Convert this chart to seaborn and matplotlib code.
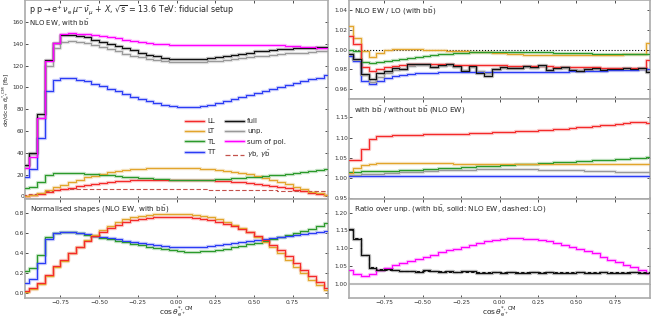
import numpy as np
import pandas as pd
import matplotlib
matplotlib.use("Agg")
import matplotlib.pyplot as plt
from matplotlib.lines import Line2D
import seaborn as sns

# ---------------- data (40 bins of width 0.05 in cos theta) ----------------
edges = np.round(np.arange(-1.0, 1.0001, 0.05), 3)

full = [29, 40, 76, 125, 141, 148, 148, 147, 146, 144, 142, 140, 138, 136, 134, 132, 130, 128.5, 127, 126.5,
        126, 126, 126, 126.5, 127, 128, 129, 130, 131, 132, 133, 133.5, 134, 135, 135.5, 136, 136, 136.5, 137, 137]
sumpol = [26, 36, 72, 124, 141, 149, 150, 149.5, 149, 148, 147, 146, 145, 144, 143, 142, 141, 140, 139.5, 139,
          138.5, 138.5, 138.5, 138.5, 138.5, 138.5, 138.5, 139, 139, 139, 139, 139, 139, 138.5, 138, 138, 137.5, 137, 136.5, 136]
unp = [28, 39, 72, 120, 136, 142, 143, 142, 140.5, 139, 137, 135, 133, 131, 129, 127.5, 126, 125, 124, 123.5,
       123, 123, 123, 123.5, 124, 124.5, 125, 126, 127, 128, 128.5, 129, 130, 131, 131.5, 132, 132, 132.5, 133, 133]
TT = [17.9, 25, 54, 97, 107, 109, 109, 107, 105.6, 103, 101, 98.5, 96.7, 94, 91.3, 89.5, 87.7, 86, 84, 83.2,
      82.3, 82.3, 82.3, 83.2, 84, 86, 87.7, 89.5, 91.3, 93, 95, 96.7, 98.5, 100, 102, 104, 105.6, 107.4, 109, 111]
TL = [7.9, 8.9, 13.6, 20.0, 21.4, 21.8, 21.8, 21.4, 20.9, 20.3, 19.8, 19.3, 18.7, 18.2, 17.7, 17.1, 16.6, 16.1, 15.7, 15.4,
      15.0, 14.8, 14.8, 15.0, 15.2, 15.5, 15.9, 16.4, 17.0, 17.5, 18.0, 18.6, 19.3, 20.0, 20.7, 21.4, 22.1, 23.0, 23.9, 25.0]
LT = [0.2, 1.1, 3.0, 5.6, 8.6, 10.5, 13.2, 15.1, 17.4, 19.1, 20.7, 22.0, 23.4, 24.3, 25.0, 25.5, 25.8, 26.0, 26.2, 26.2,
      26.2, 26.0, 25.8, 25.5, 25.0, 24.3, 23.5, 22.5, 21.4, 20.1, 18.6, 16.9, 15.1, 13.2, 10.9, 8.6, 6.6, 4.3, 2.6, 1.0]
LL = [0.4, 1.0, 2.0, 3.6, 5.4, 6.6, 8.0, 9.2, 10.5, 11.5, 12.3, 13.1, 13.7, 14.3, 14.7, 15.0, 15.2, 15.3, 15.4, 15.4,
      15.4, 15.3, 15.2, 15.0, 14.7, 14.4, 14.0, 13.5, 12.9, 12.3, 11.5, 10.7, 9.6, 8.6, 7.4, 6.0, 4.6, 3.4, 2.2, 1.0]
gb = [1, 2, 3.5, 5, 6, 6.5, 6.8, 7, 7, 7, 7, 7, 7, 7, 7, 7, 6.9, 6.8, 6.8, 6.7,
      6.6, 6.5, 6.4, 6.3, 6.2, 6.1, 6, 5.9, 5.8, 5.7, 5.6, 5.5, 5.4, 5.3, 5.2, 5.2, 5.1, 5, 5, 5]

# normalised shapes
LL_n = [0.02, 0.05, 0.10, 0.18, 0.27, 0.33, 0.40, 0.46, 0.52, 0.57, 0.61, 0.65, 0.68, 0.71, 0.73, 0.745, 0.755, 0.76, 0.765, 0.765,
        0.765, 0.76, 0.755, 0.745, 0.73, 0.715, 0.695, 0.67, 0.64, 0.61, 0.57, 0.53, 0.48, 0.43, 0.37, 0.30, 0.23, 0.17, 0.11, 0.05]
LT_n = [0.005, 0.034, 0.09, 0.17, 0.26, 0.32, 0.40, 0.46, 0.53, 0.58, 0.63, 0.67, 0.71, 0.74, 0.76, 0.775, 0.785, 0.79, 0.795, 0.795,
        0.795, 0.79, 0.785, 0.775, 0.76, 0.74, 0.715, 0.685, 0.65, 0.61, 0.565, 0.515, 0.46, 0.40, 0.33, 0.26, 0.20, 0.13, 0.08, 0.03]
TL_n = [0.22, 0.25, 0.38, 0.56, 0.60, 0.61, 0.61, 0.60, 0.585, 0.57, 0.555, 0.54, 0.525, 0.51, 0.495, 0.48, 0.465, 0.45, 0.44, 0.43,
        0.42, 0.415, 0.415, 0.42, 0.425, 0.435, 0.445, 0.46, 0.475, 0.49, 0.505, 0.52, 0.54, 0.56, 0.58, 0.60, 0.62, 0.645, 0.67, 0.70]
TT_n = [0.10, 0.14, 0.30, 0.54, 0.60, 0.61, 0.61, 0.60, 0.59, 0.575, 0.565, 0.55, 0.54, 0.525, 0.51, 0.50, 0.49, 0.48, 0.47, 0.465,
        0.46, 0.46, 0.46, 0.465, 0.47, 0.48, 0.49, 0.50, 0.51, 0.52, 0.53, 0.54, 0.55, 0.56, 0.57, 0.58, 0.59, 0.60, 0.61, 0.62]

# NLO EW / LO
LT_r1 = [1.024, 1.012, 0.999, 0.993, 0.997, 1.000, 1.001, 1.001, 1.001, 1.001, 1.000, 1.000, 1.000, 0.999, 0.999, 0.999,
         0.998, 0.998, 0.998, 0.997, 0.997, 0.996, 0.996, 0.995, 0.995, 0.995, 0.995, 0.995, 0.995, 0.995, 0.995, 0.995,
         0.995, 0.995, 0.995, 0.995, 0.996, 0.996, 0.996, 1.007]
LL_r1 = [1.014, 1.006, 0.982, 0.978, 0.980, 0.982, 0.983, 0.984, 0.985, 0.985, 0.985, 0.985, 0.985, 0.985, 0.984, 0.984,
         0.984, 0.984, 0.984, 0.984, 0.984, 0.983, 0.983, 0.983, 0.983, 0.983, 0.983, 0.982, 0.982, 0.982, 0.982, 0.982,
         0.982, 0.981, 0.981, 0.981, 0.981, 0.981, 0.981, 0.990]
TL_r1 = [1.000, 0.999, 0.988, 0.987, 0.988, 0.989, 0.990, 0.991, 0.992, 0.993, 0.994, 0.995, 0.996, 0.996, 0.997, 0.997,
         0.998, 0.998, 0.998, 0.998, 0.998, 0.998, 0.998, 0.998, 0.998, 0.998, 0.998, 0.997, 0.997, 0.997, 0.997, 0.997,
         0.996, 0.996, 0.996, 0.996, 0.996, 0.996, 0.996, 0.996]
TT_r1 = [0.994, 0.989, 0.968, 0.965, 0.968, 0.971, 0.973, 0.974, 0.975, 0.976, 0.976, 0.976, 0.977, 0.977, 0.977, 0.977,
         0.977, 0.977, 0.977, 0.977, 0.977, 0.977, 0.977, 0.977, 0.977, 0.977, 0.977, 0.977, 0.977, 0.978, 0.978, 0.978,
         0.978, 0.978, 0.979, 0.979, 0.979, 0.979, 0.980, 0.980]
full_r1 = [0.996, 0.991, 0.975, 0.970, 0.976, 0.978, 0.981, 0.980, 0.986, 0.985, 0.985, 0.982, 0.984, 0.985, 0.983, 0.978,
           0.983, 0.976, 0.973, 0.980, 0.982, 0.981, 0.981, 0.983, 0.982, 0.984, 0.979, 0.981, 0.982, 0.979, 0.978, 0.980,
           0.981, 0.979, 0.980, 0.980, 0.981, 0.980, 0.981, 0.977]
unp_r1 = [0.996, 0.990, 0.974, 0.967, 0.972, 0.976, 0.979, 0.980, 0.983, 0.984, 0.984, 0.982, 0.983, 0.984, 0.982, 0.979,
          0.982, 0.978, 0.976, 0.980, 0.981, 0.981, 0.981, 0.982, 0.981, 0.983, 0.979, 0.981, 0.981, 0.979, 0.979, 0.980,
          0.980, 0.979, 0.980, 0.980, 0.980, 0.980, 0.980, 0.978]

# with bb / without bb
LL_r2 = [1.045, 1.045, 1.072, 1.097, 1.103, 1.105, 1.106, 1.106, 1.107, 1.107, 1.108, 1.108, 1.109, 1.109, 1.110, 1.110,
         1.111, 1.111, 1.112, 1.113, 1.113, 1.114, 1.115, 1.116, 1.117, 1.118, 1.119, 1.120, 1.122, 1.123, 1.125, 1.126,
         1.128, 1.130, 1.132, 1.134, 1.136, 1.138, 1.139, 1.137]
LT_r2 = [1.012, 1.025, 1.032, 1.035, 1.036, 1.037, 1.037, 1.037, 1.037, 1.037, 1.036, 1.036, 1.036, 1.036, 1.035, 1.035,
         1.035, 1.035, 1.034, 1.034, 1.034, 1.034, 1.034, 1.034, 1.034, 1.033, 1.033, 1.033, 1.033, 1.033, 1.033, 1.033,
         1.033, 1.033, 1.033, 1.033, 1.033, 1.033, 1.033, 1.033]
TL_r2 = [1.015, 1.015, 1.016, 1.016, 1.016, 1.017, 1.017, 1.018, 1.019, 1.020, 1.021, 1.022, 1.023, 1.024, 1.025, 1.026,
         1.027, 1.028, 1.029, 1.030, 1.031, 1.032, 1.033, 1.034, 1.035, 1.036, 1.037, 1.038, 1.039, 1.040, 1.041, 1.042,
         1.043, 1.044, 1.045, 1.046, 1.047, 1.048, 1.050, 1.052]
unp_r2 = [1.007, 1.007, 1.008, 1.009, 1.010, 1.011, 1.012, 1.013, 1.014, 1.015, 1.016, 1.017, 1.018, 1.019, 1.019, 1.020,
          1.020, 1.021, 1.021, 1.021, 1.021, 1.021, 1.021, 1.021, 1.021, 1.020, 1.020, 1.019, 1.019, 1.018, 1.018, 1.017,
          1.017, 1.016, 1.016, 1.015, 1.015, 1.014, 1.014, 1.013]
TT_r2 = [1.005, 1.004, 1.004, 1.003, 1.003, 1.003, 1.003, 1.003, 1.003, 1.003, 1.003, 1.003, 1.003, 1.003, 1.003, 1.003,
         1.003, 1.003, 1.003, 1.003, 1.003, 1.003, 1.003, 1.003, 1.003, 1.003, 1.003, 1.003, 1.003, 1.003, 1.003, 1.003,
         1.003, 1.004, 1.004, 1.004, 1.004, 1.004, 1.004, 1.004]

# ratio over unpolarised
full_r3_nlo = [1.155, 1.125, 1.080, 1.045, 1.040, 1.041, 1.038, 1.035, 1.036, 1.033, 1.038, 1.036, 1.034, 1.035, 1.034, 1.035,
               1.035, 1.029, 1.031, 1.033, 1.031, 1.032, 1.030, 1.031, 1.032, 1.031, 1.032, 1.030, 1.031, 1.030, 1.032, 1.030,
               1.031, 1.032, 1.031, 1.030, 1.031, 1.032, 1.030, 1.030]
full_r3_lo = [1.150, 1.128, 1.080, 1.046, 1.041, 1.040, 1.038, 1.037, 1.036, 1.036, 1.035, 1.035, 1.035, 1.034, 1.034, 1.034,
              1.034, 1.034, 1.033, 1.033, 1.033, 1.033, 1.033, 1.033, 1.033, 1.033, 1.033, 1.033, 1.033, 1.033, 1.033, 1.033,
              1.033, 1.033, 1.033, 1.033, 1.033, 1.034, 1.034, 1.034]
sum_r3 = [1.040, 1.027, 1.022, 1.028, 1.040, 1.045, 1.052, 1.058, 1.064, 1.070, 1.076, 1.082, 1.088, 1.094, 1.099, 1.104,
          1.110, 1.115, 1.119, 1.123, 1.126, 1.128, 1.128, 1.127, 1.125, 1.122, 1.119, 1.115, 1.110, 1.104, 1.099, 1.093,
          1.087, 1.076, 1.068, 1.060, 1.052, 1.046, 1.040, 1.030]

xticks = [-0.75, -0.50, -0.25, 0.00, 0.25, 0.50, 0.75]

# ---------------- style ----------------
sns.set_style("ticks")
plt.rcParams['font.family'] = ['DejaVu Sans']
plt.rcParams['mathtext.fontset'] = 'dejavusans'

C = dict(LL="#f42a2a", LT="#e2a52c", TL="#2b9a2b", TT="#2b3cf5", full="#111111",
         unp="#999999", sum="#ff00ff", gb="#c4524c")

W, H = 651, 318
def pos(x0, y0, x1, y1):
    return [x0 / W, 1 - y1 / H, (x1 - x0) / W, (y1 - y0) / H]

r0, r1, r2, r3 = 0.3, 99.4, 198.5, 297.6
fig = plt.figure(figsize=(6.51, 3.18), dpi=100)
ax_main = fig.add_axes(pos(25, r0, 328, r2))
ax_norm = fig.add_axes(pos(25, r2, 328, r3))
ax_r1 = fig.add_axes(pos(349, r0, 650, r1))
ax_r2 = fig.add_axes(pos(349, r1, 650, r2))
ax_r3 = fig.add_axes(pos(349, r2, 650, r3))

def step(ax, vals, color, ls='-', band=True, lw=0.8, z=3):
    v = np.asarray(vals, dtype=float)
    df = pd.DataFrame({'x': edges, 'y': np.append(v, v[-1])})
    if band:
        sns.lineplot(data=df, x='x', y='y', ax=ax, color=color, lw=2.4, alpha=0.28,
                     drawstyle='steps-post', errorbar=None, legend=False, zorder=z - 1)
    sns.lineplot(data=df, x='x', y='y', ax=ax, color=color, lw=lw, linestyle=ls,
                 drawstyle='steps-post', errorbar=None, legend=False, zorder=z)

# main panel
step(ax_main, gb, C['gb'], ls=(0, (4, 2)), band=False)
for arr, key in [(LL, 'LL'), (LT, 'LT'), (TL, 'TL'), (TT, 'TT'), (unp, 'unp'), (full, 'full'), (sumpol, 'sum')]:
    step(ax_main, arr, C[key])

# normalised shapes
for arr, key in [(TL_n, 'TL'), (TT_n, 'TT'), (LT_n, 'LT'), (LL_n, 'LL')]:
    step(ax_norm, arr, C[key])

# ratio NLO/LO
ax_r1.axhline(1.0, color='black', lw=0.8, ls=':', zorder=1)
for arr, key in [(LT_r1, 'LT'), (TL_r1, 'TL'), (LL_r1, 'LL'), (TT_r1, 'TT'), (unp_r1, 'unp'), (full_r1, 'full')]:
    step(ax_r1, arr, C[key])

# with/without bb
for arr, key in [(TT_r2, 'TT'), (unp_r2, 'unp'), (TL_r2, 'TL'), (LT_r2, 'LT'), (LL_r2, 'LL')]:
    step(ax_r2, arr, C[key])

# ratio over unp
ax_r3.axhline(1.0, color='#bbbbbb', lw=1.5, zorder=1)
step(ax_r3, sum_r3, C['sum'])
step(ax_r3, full_r3_lo, C['full'], ls=(0, (3, 2)), band=False)
step(ax_r3, full_r3_nlo, C['full'])

# ---------------- axes cosmetics ----------------
for ax in [ax_main, ax_norm, ax_r1, ax_r2, ax_r3]:
    ax.set_xlim(-0.978, 0.978)
    ax.set_xticks(xticks)
    ax.set_xlabel('')
    ax.set_ylabel('')
    ax.tick_params(direction='in', length=2.2, width=0.6, labelsize=4.2, pad=0.8,
                   top=True, right=True, colors='#333333')
    ax.tick_params(axis='x', pad=1.4)
    for s in ax.spines.values():
        s.set_color('#aaaaaa')
        s.set_linewidth(1.2)

for ax in [ax_main, ax_r1, ax_r2]:
    ax.set_xticklabels([])
for ax in [ax_norm, ax_r3]:
    ax.set_xticklabels([f"{t:.2f}".replace('-', '\u2212') for t in xticks])
    ax.set_xlabel(r"cos$\,\theta^{*,\,\mathrm{CM}}_{\mathrm{e}^+}$", fontsize=5.4)
    ax.xaxis.set_label_coords(0.5, -0.072)

ax_main.set_ylim(-2, 180)
ax_main.set_yticks([0, 20, 40, 60, 80, 100, 120, 140, 160])
ax_main.set_ylabel(r"d$\sigma$/dcos$\,\theta^{*,\mathrm{CM}}_{\mathrm{e}^{+}}$ [fb]", fontsize=4.4)
ax_main.yaxis.set_label_coords(-0.041, 0.5)
ax_norm.set_ylim(-0.05, 0.95)
ax_norm.set_yticks([0.0, 0.2, 0.4, 0.6, 0.8])
ax_r1.set_ylim(0.9495, 1.0503)
ax_r1.set_yticks([0.96, 0.98, 1.00, 1.02, 1.04])
ax_r2.set_ylim(0.948, 1.195)
ax_r2.set_yticks([0.95, 1.00, 1.05, 1.10, 1.15])
ax_r3.set_ylim(0.961, 1.24)
ax_r3.set_yticks([1.00, 1.05, 1.10, 1.15, 1.20])

bb = r"$\mathrm{b\bar{b}}$"
ax_main.text(0.012, 0.985, r"p p$\rightarrow$e$^{+}\,\nu_{\mathrm{e}}\,\mu^{-}\,\bar{\nu}_{\mu}$ + $X$, $\sqrt{s}$ = 13.6 TeV: fiducial setup",
             transform=ax_main.transAxes, ha='left', va='top', fontsize=5.8)
ax_main.text(0.012, 0.915, "NLO EW, with " + bb, transform=ax_main.transAxes, ha='left', va='top', fontsize=5)
ax_norm.text(0.015, 0.95, "Normalised shapes (NLO EW, with " + bb + ")", transform=ax_norm.transAxes,
             ha='left', va='top', fontsize=5.2)
ax_r1.text(0.015, 0.95, "NLO EW / LO (with " + bb + ")", transform=ax_r1.transAxes, ha='left', va='top', fontsize=5.2)
ax_r2.text(0.015, 0.95, "with " + bb + " / without " + bb + " (NLO EW)", transform=ax_r2.transAxes,
           ha='left', va='top', fontsize=5.2)
ax_r3.text(0.015, 0.95, "Ratio over unp. (with " + bb + ", solid: NLO EW, dashed: LO)", transform=ax_r3.transAxes,
           ha='left', va='top', fontsize=5.2)

# legend
def h(key, ls='-', band=True):
    thin = Line2D([], [], color=C[key], lw=0.9, linestyle=ls)
    if not band:
        return thin
    return (Line2D([], [], color=C[key], lw=2.4, alpha=0.28), thin)

handles = [h('LL'), h('LT'), h('TL'), h('TT'), h('full'), h('unp'), h('sum'), h('gb', ls=(0, (4, 2)), band=False)]
labels = ['LL', 'LT', 'TL', 'TT', 'full', 'unp.', 'sum of pol.', r"$\gamma$b, $\gamma\bar{\mathrm{b}}$"]
ax_main.legend(handles, labels, ncol=2, fontsize=5, frameon=False, loc='upper left',
               bbox_to_anchor=(0.52, 0.42), handlelength=2.7, columnspacing=1.3, labelspacing=0.62,
               handletextpad=0.5, borderaxespad=0)

fig.savefig("out.png", dpi=100)
